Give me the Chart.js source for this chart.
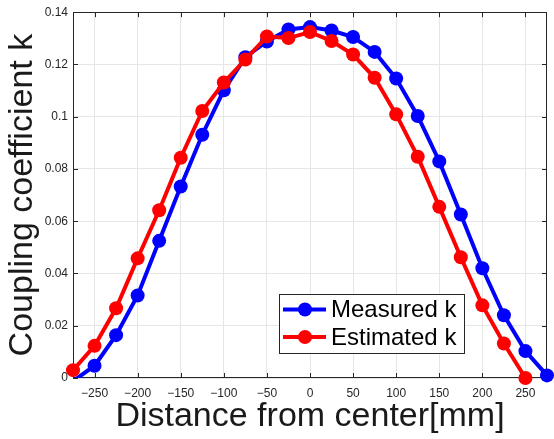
<!DOCTYPE html>
<html>
<head>
<meta charset="utf-8">
<script src="https://cdn.jsdelivr.net/npm/chart.js@4"></script>
<style>
  html, body { margin: 0; padding: 0; background: #fff; }
  #wrap { width: 554px; height: 439px; }
</style>
</head>
<body>
<div id="wrap"><canvas id="myChart"></canvas></div>
<script>
// distance from center [mm]
const distance = [-275, -250, -225, -200, -175, -150, -125, -100, -75, -50, -25, 0,
                  25, 50, 75, 100, 125, 150, 175, 200, 225, 250, 275];
const measuredK = [-0.0012, 0.0047, 0.0164, 0.0316, 0.0525, 0.0733, 0.0931, 0.1101, 0.1228, 0.1288, 0.1334, 0.1343,
                   0.1330, 0.1305, 0.1248, 0.1146, 0.1003, 0.0829, 0.0626, 0.0420, 0.0240, 0.0103, 0.0010];
const estimatedK = [0.0030, 0.0123, 0.0267, 0.0458, 0.0642, 0.0843, 0.1022, 0.1131, 0.1219, 0.1307, 0.1301, 0.1324,
                    0.1290, 0.1238, 0.1149, 0.1009, 0.0847, 0.0655, 0.0462, 0.0278, 0.0132, 0.0000, null];
const xTicks = [-250, -200, -150, -100, -50, 0, 50, 100, 150, 200, 250];
const yTicks = [0, 0.02, 0.04, 0.06, 0.08, 0.1, 0.12, 0.14];
const yTickLabels = ['0', '0.02', '0.04', '0.06', '0.08', '0.1', '0.12', '0.14'];

const FONT = "'Liberation Sans', Arial, sans-serif";
const AXIS_COLOR = '#262626';

function points(ys) {
  return distance.map((d, i) => ({ x: d, y: ys[i] }));
}

// markers only shown when their centre lies inside the axes (like MATLAB clipping)
function markerRadius(c) {
  const v = c.raw && c.raw.y;
  return (v == null || v < 0 || v > 0.14) ? 0 : 7;
}

// frame + inward ticks on all four sides
const axisBox = {
  id: 'axisBox',
  beforeDatasetsDraw(chart) {
    const { ctx, chartArea: a, scales: { x, y } } = chart;
    ctx.save();
    ctx.strokeStyle = AXIS_COLOR;
    ctx.lineWidth = 1;
    ctx.beginPath();
    xTicks.forEach(v => {
      const px = Math.round(x.getPixelForValue(v)) + 0.5;
      ctx.moveTo(px, a.bottom); ctx.lineTo(px, a.bottom - 5);
      ctx.moveTo(px, a.top); ctx.lineTo(px, a.top + 5);
    });
    yTicks.forEach(v => {
      const py = Math.round(y.getPixelForValue(v)) + 0.5;
      ctx.moveTo(a.left, py); ctx.lineTo(a.left + 5, py);
      ctx.moveTo(a.right, py); ctx.lineTo(a.right - 5, py);
    });
    ctx.stroke();
    ctx.strokeRect(Math.round(a.left) + 0.5, Math.round(a.top) + 0.5,
                   Math.round(a.width) - 1, Math.round(a.height) - 1);
    ctx.restore();
  }
};

// boxed legend inside the axes, lower right
const boxLegend = {
  id: 'boxLegend',
  afterDraw(chart) {
    const { ctx, chartArea: a } = chart;
    const items = chart.data.datasets.filter(d => d.showLine);
    const w = 185, h = 59;
    const left = a.right - 83 - w, top = a.bottom - 25 - h;
    ctx.save();
    ctx.fillStyle = '#fff';
    ctx.fillRect(left, top, w, h);
    ctx.strokeStyle = AXIS_COLOR;
    ctx.lineWidth = 1;
    ctx.strokeRect(Math.round(left) + 0.5, Math.round(top) + 0.5, w, h);
    ctx.font = "24px " + FONT;
    ctx.textBaseline = 'middle';
    items.forEach((d, i) => {
      const cy = top + 15.5 + i * 27.5;
      ctx.strokeStyle = d.borderColor;
      ctx.lineWidth = 4;
      ctx.beginPath();
      ctx.moveTo(left + 4, cy); ctx.lineTo(left + 47, cy);
      ctx.stroke();
      ctx.fillStyle = d.borderColor;
      ctx.beginPath();
      ctx.arc(left + 26, cy, 7, 0, Math.PI * 2);
      ctx.fill();
      ctx.fillStyle = '#000';
      ctx.fillText(d.label, left + 52, cy + 1);
    });
    ctx.restore();
  }
};

var ctx = document.getElementById('myChart').getContext('2d');
var myChart = new Chart(ctx, {
  type: 'scatter',
  data: {
    datasets: [
      { label: 'Measured k', data: points(measuredK), showLine: true, borderColor: '#0000ff',
        borderWidth: 4, pointRadius: 0, clip: 0, order: 3 },
      { label: 'Measured k', data: points(measuredK), showLine: false, backgroundColor: '#0000ff',
        borderColor: '#0000ff', pointRadius: markerRadius, pointBorderWidth: 0, clip: false, order: 2 },
      { label: 'Estimated k', data: points(estimatedK), showLine: true, borderColor: '#ff0000',
        borderWidth: 4, pointRadius: 0, clip: 0, order: 1 },
      { label: 'Estimated k', data: points(estimatedK), showLine: false, backgroundColor: '#ff0000',
        borderColor: '#ff0000', pointRadius: markerRadius, pointBorderWidth: 0, clip: false, order: 0 }
    ]
  },
  options: {
    responsive: true,
    maintainAspectRatio: false,
    animation: false,
    events: [],
    layout: { padding: { left: 0, right: 3, top: 10, bottom: 0 } },
    plugins: {
      legend: { display: false },
      tooltip: { enabled: false }
    },
    scales: {
      x: {
        type: 'linear',
        min: -275,
        max: 275,
        afterBuildTicks: s => { s.ticks = xTicks.map(v => ({ value: v })); },
        afterFit: s => { s.height = 61; },
        grid: { color: '#e6e6e6', drawTicks: false },
        border: { display: false },
        ticks: {
          padding: 8,
          color: AXIS_COLOR,
          font: { family: FONT, size: 12 },
          callback: v => String(v).replace('-', '\u2212')
        },
        title: {
          display: true,
          text: 'Distance from center[mm]',
          color: '#1a1a1a',
          font: { family: FONT, size: 34 },
          padding: { top: 0, bottom: 2 }
        }
      },
      y: {
        type: 'linear',
        min: 0,
        max: 0.14,
        afterBuildTicks: s => { s.ticks = yTicks.map(v => ({ value: v })); },
        afterFit: s => { s.width = 73; },
        grid: { color: '#e6e6e6', drawTicks: false },
        border: { display: false },
        ticks: {
          padding: 5,
          color: AXIS_COLOR,
          font: { family: FONT, size: 12 },
          callback: (v, i) => yTickLabels[i]
        },
        title: {
          display: true,
          text: 'Coupling coefficient k',
          color: '#1a1a1a',
          font: { family: FONT, size: 34 },
          padding: { top: 2, bottom: 0 }
        }
      }
    }
  },
  plugins: [axisBox, boxLegend]
});
</script>
</body>
</html>
